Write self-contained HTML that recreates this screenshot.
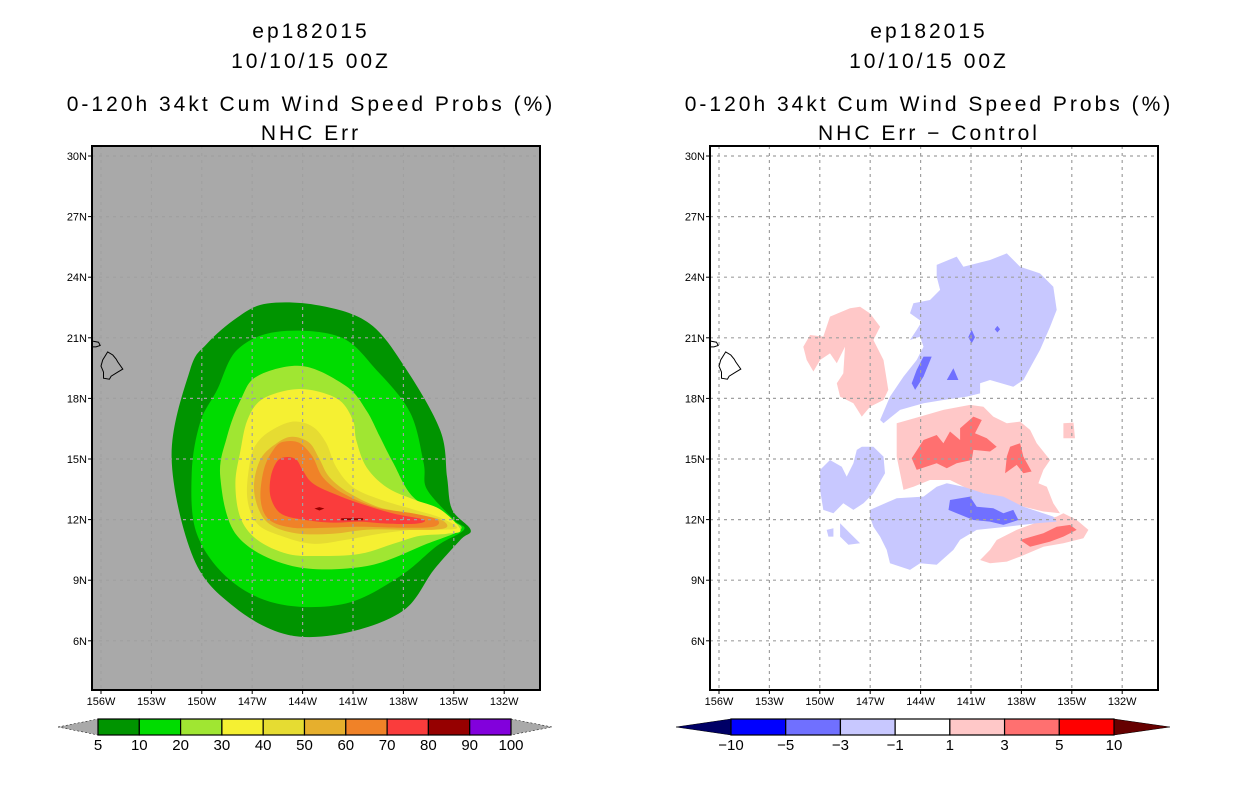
<!DOCTYPE html>
<html><head><meta charset="utf-8"><style>
html,body{margin:0;padding:0;background:#fff;}
svg{display:block;font-family:"Liberation Sans",sans-serif;}
</style></head><body>
<svg id="chart" width="1236" height="800" viewBox="0 0 1236 800" xmlns="http://www.w3.org/2000/svg">
<g font-size="21" letter-spacing="3" text-anchor="middle" fill="#000">
<text x="311" y="38">ep182015</text>
<text x="311" y="68">10/10/15 00Z</text>
<text x="311" y="111">0-120h 34kt Cum Wind Speed Probs (%)</text>
<text x="311" y="140">NHC Err</text>
</g>
<g font-size="21" letter-spacing="3" text-anchor="middle" fill="#000">
<text x="929" y="38">ep182015</text>
<text x="929" y="68">10/10/15 00Z</text>
<text x="929" y="111">0-120h 34kt Cum Wind Speed Probs (%)</text>
<text x="929" y="140">NHC Err − Control</text>
</g>
<g id="leftMap"></g>
<g id="rightMap"></g>
<g id="leftBar"></g>
<g id="rightBar"></g>
</svg>
<script>
const NS='http://www.w3.org/2000/svg';
const lonTicks=[156,153,150,147,144,141,138,135,132];
const latTicks=[30,27,24,21,18,15,12,9,6];
const probLevels=['5','10','20','30','40','50','60','70','80','90','100'];
const probColors=['#009400','#00dc00','#a0e632','#f5f032','#e6dc32','#e6af2d','#f08228','#fa3c3c','#960000','#8200dc'];
const diffLevels=['−10','−5','−3','−1','1','3','5','10'];
const diffColors=['#0000ff','#7070ff','#c8c8ff','#ffffff','#ffc8c8','#ff7070','#ff0000'];
// contours: [lonW, lat]
const prob5=[[146.1,22.7],[143.0,22.6],[140.0,21.7],[137.8,19.4],[135.8,16.4],[135.4,14.1],[135.1,12.5],[134.0,11.5],[134.6,11.0],[136.2,9.5],[138.0,7.5],[141.4,6.4],[144.9,6.3],[148.1,7.7],[150.5,10.1],[151.8,15.1],[150.7,19.4],[149.7,20.7],[147.9,22.0]];
const prob10=[[145.5,21.3],[141.8,21.05],[139.6,19.4],[137.6,17.3],[136.8,14.8],[136.6,13.5],[135.0,12.0],[134.4,11.5],[136.0,10.7],[138.2,9.2],[141.4,7.85],[145.3,7.8],[148.3,9.0],[150.3,11.3],[150.6,14.3],[150.1,16.8],[149.1,18.4],[147.9,20.4]];
const prob20=[[146.7,19.1],[144.0,19.6],[141.4,18.6],[140.2,17.4],[139.4,16.1],[138.6,14.8],[137.4,13.1],[135.2,12.0],[134.6,11.5],[136.6,10.8],[140.2,9.7],[144.6,9.7],[147.9,11.2],[148.9,14.1],[148.5,16.1],[147.7,17.9]];
const prob30=[[146.5,17.9],[144.9,18.4],[143.4,18.4],[141.8,17.9],[141.0,16.9],[140.8,15.9],[140.2,14.6],[139.0,13.6],[137.4,13.0],[135.8,12.5],[134.6,11.5],[135.4,11.3],[137.0,11.2],[138.6,10.8],[140.6,10.3],[143.0,10.2],[144.9,10.3],[146.7,11.0],[147.7,12.1],[148.0,13.8],[147.7,15.4],[147.3,16.9]];
const prob40=[[145.9,16.4],[144.6,16.85],[143.4,16.6],[142.6,15.8],[142.0,14.6],[141.0,13.6],[139.4,13.0],[137.4,12.5],[135.8,12.1],[134.8,11.6],[135.8,11.5],[137.4,11.5],[139.4,11.3],[141.4,11.0],[143.4,10.8],[145.3,11.2],[146.7,11.8],[147.3,13.1],[147.1,15.0],[146.7,15.8]];
const prob50=[[145.5,15.8],[144.6,16.1],[143.6,15.8],[143.0,15.0],[142.4,14.1],[141.2,13.3],[139.4,12.6],[137.4,12.3],[135.8,12.0],[135.4,11.65],[136.2,11.5],[138.2,11.5],[140.2,11.5],[142.2,11.3],[144.2,11.3],[145.7,11.65],[146.5,12.3],[146.9,13.6],[146.5,15.0]];
const prob60=[[145.15,15.85],[144.2,15.8],[143.4,15.1],[142.8,14.1],[141.6,13.3],[139.6,12.6],[137.4,12.3],[136.0,12.0],[136.2,11.65],[138.2,11.6],[140.6,11.65],[142.6,11.6],[144.6,11.6],[146.0,12.0],[146.5,13.0],[146.3,14.5],[145.7,15.5]];
const prob70=[[144.9,15.1],[144.35,14.95],[144.0,14.45],[143.4,13.8],[142.2,13.3],[140.6,12.8],[138.6,12.3],[136.8,12.0],[137.2,11.8],[139.0,11.8],[140.6,11.9],[142.2,11.85],[144.0,12.0],[145.3,12.3],[145.9,13.1],[145.9,14.1],[145.5,14.9]];
const prob80a=[[143.3,12.55],[143.0,12.62],[142.7,12.55],[143.0,12.45]];
const prob80b=[[141.7,12.07],[140.4,12.07],[140.4,11.97],[141.7,11.97]];
const negNorth=[[143.04,24.61],[141.85,25.02],[141.45,24.52],[139.87,24.85],[138.87,25.18],[138.08,24.52],[136.89,24.19],[136.10,23.53],[135.90,22.38],[136.29,21.55],[136.89,20.40],[137.88,18.91],[138.48,18.58],[139.87,18.91],[140.46,18.75],[140.46,18.25],[141.25,18.09],[142.64,17.92],[143.83,17.76],[145.22,17.43],[146.21,16.77],[146.41,16.93],[145.82,18.09],[145.02,19.08],[144.23,19.90],[143.83,20.56],[144.03,21.06],[144.63,20.89],[144.23,21.39],[143.93,21.80],[144.63,22.22],[144.43,22.71],[143.44,22.87],[142.84,23.37],[143.04,24.03]];
const neg3a=[[143.83,20.07],[143.34,20.07],[143.83,19.08],[144.33,18.42],[144.53,18.75],[144.23,19.41]];
const neg3b=[[142.05,19.49],[141.75,18.91],[142.44,18.91]];
const neg3c=[[140.96,21.39],[140.76,21.03],[140.96,20.73],[141.16,21.03]];
const neg3d=[[139.43,21.59],[139.27,21.42],[139.43,21.26],[139.59,21.42]];
const posNW=[[150.98,20.56],[150.58,21.14],[149.79,21.06],[149.39,22.05],[148.20,22.46],[147.60,22.54],[147.01,22.21],[146.41,21.55],[146.81,20.89],[146.21,19.90],[145.92,18.42],[146.21,17.92],[147.01,17.59],[147.50,17.10],[148.00,17.76],[148.79,18.09],[148.99,18.75],[148.60,19.24],[148.50,20.56],[148.79,20.07],[148.99,19.74],[149.39,20.23],[149.98,19.90],[150.38,19.33],[150.78,19.90]];
const posCentral=[[145.42,16.77],[144.03,17.10],[142.64,17.43],[141.06,17.68],[140.26,17.59],[139.67,17.10],[138.87,16.77],[138.08,16.85],[137.48,16.44],[137.09,15.78],[136.29,14.95],[136.69,14.46],[136.99,13.80],[136.49,13.63],[136.10,12.81],[135.70,12.31],[136.69,12.40],[137.88,12.64],[139.47,13.14],[141.06,13.47],[142.25,13.96],[143.44,13.96],[144.43,13.63],[145.02,13.47],[145.22,14.29],[145.42,15.12],[145.42,15.94]];
const pos3a=[[144.53,15.04],[143.83,15.94],[143.04,16.19],[142.64,15.78],[142.25,16.36],[141.65,15.94],[141.65,16.52],[140.86,17.10],[140.36,16.93],[140.76,16.27],[140.06,16.03],[139.47,15.61],[139.87,15.37],[140.86,15.45],[140.96,14.95],[141.85,14.79],[142.44,14.54],[143.04,14.79],[144.23,14.46]];
const pos3b=[[138.67,15.61],[138.08,15.78],[137.88,15.12],[137.39,14.38],[137.88,14.29],[138.28,14.71],[138.97,14.29],[138.87,15.12]];
const posE=[[135.50,16.77],[134.90,16.80],[134.81,16.03],[135.50,16.03]];
const posSE=[[140.46,10.00],[139.87,10.50],[139.47,10.99],[138.28,11.49],[136.69,11.98],[135.90,12.15],[135.50,12.31],[134.71,11.98],[134.01,11.49],[134.31,11.08],[135.50,10.83],[136.69,10.66],[138.08,10.17],[138.87,9.92],[139.87,9.84]];
const pos3SE=[[138.08,10.99],[136.69,11.32],[135.90,11.65],[135.10,11.74],[134.71,11.49],[135.50,11.16],[136.29,10.91],[137.48,10.66]];
const negSouth=[[147.01,12.48],[145.42,13.06],[143.83,13.14],[143.04,13.63],[142.44,13.80],[141.45,13.63],[140.26,13.30],[139.07,13.14],[137.88,12.64],[136.10,12.15],[135.90,11.90],[137.09,11.82],[138.87,11.65],[140.66,11.49],[141.65,11.00],[142.05,10.50],[143.04,9.76],[144.03,9.84],[144.63,9.51],[145.82,9.84],[146.02,10.50],[146.41,11.16],[146.81,11.65],[147.01,12.15]];
const neg3South=[[142.25,12.97],[141.06,13.14],[140.66,12.64],[139.67,12.56],[139.07,12.31],[138.48,12.48],[138.18,11.98],[139.07,11.74],[139.87,11.90],[140.86,11.98],[141.85,12.31],[142.34,12.48]];
const negWest=[[149.98,14.46],[149.39,14.95],[148.69,14.62],[148.40,14.13],[148.00,14.79],[147.80,15.45],[147.50,15.61],[146.81,15.61],[146.21,15.12],[146.12,14.29],[146.81,13.30],[147.40,12.81],[148.00,12.48],[148.60,12.81],[149.19,12.31],[149.79,12.48],[149.98,13.47]];
const negSmall1=[[148.79,11.82],[148.20,11.32],[147.60,10.83],[148.30,10.75],[148.79,11.16]];
const negSmall2=[[149.59,11.49],[149.19,11.57],[149.19,11.16],[149.49,11.16]];
const bigIsland=[[155.6,20.3],[155.9,19.9],[156.0,19.6],[155.85,19.3],[155.85,19.0],[155.5,18.95],[155.4,19.1],[155.0,19.3],[154.7,19.45],[155.0,19.8],[155.1,19.95],[155.3,20.15]];
const maui=[[156.6,20.85],[156.15,20.78],[156.05,20.62],[156.3,20.55],[156.6,20.55]];

function el(t,a,p){const e=document.createElementNS(NS,t);for(const k in a)e.setAttribute(k,a[k]);p.appendChild(e);return e;}
function makeMap(g,x0,id){
  const X0=x0,W=448,Y0=146,H=544;
  const xs=lon=>X0+9+(156-lon)*16.8;
  const ys=lat=>156+(30-lat)*20.2;
  const clip=el('clipPath',{id:id},g);el('rect',{x:X0,y:Y0,width:W,height:H},clip);
  const inner=el('g',{'clip-path':'url(#'+id+')'},g);
  return {xs,ys,inner,X0,W,Y0,H};
}
function ptsStr(m,arr){return arr.map(p=>m.xs(p[0]).toFixed(1)+','+m.ys(p[1]).toFixed(1)).join(' ');}
function smoothPath(m,arr){
  const P=arr.map(p=>[m.xs(p[0]),m.ys(p[1])]);const n=P.length;let d='M'+P[0][0].toFixed(1)+','+P[0][1].toFixed(1);
  for(let i=0;i<n;i++){const p0=P[(i-1+n)%n],p1=P[i],p2=P[(i+1)%n],p3=P[(i+2)%n];
    const c1=[p1[0]+(p2[0]-p0[0])/6,p1[1]+(p2[1]-p0[1])/6],c2=[p2[0]-(p3[0]-p1[0])/6,p2[1]-(p3[1]-p1[1])/6];
    d+='C'+c1[0].toFixed(1)+','+c1[1].toFixed(1)+' '+c2[0].toFixed(1)+','+c2[1].toFixed(1)+' '+p2[0].toFixed(1)+','+p2[1].toFixed(1);}
  return d+'Z';
}
function gridAxes(m,g){
  for(const lon of lonTicks){const x=m.xs(lon);
    const l=el('line',{x1:x,y1:m.Y0,x2:x,y2:m.Y0+m.H,stroke:'#a0a0a0','stroke-width':1.2,'stroke-dasharray':'3,4'},m.inner);
    
    el('line',{x1:x,y1:m.Y0+m.H,x2:x,y2:m.Y0+m.H+4,stroke:'#000'},g);
    const t=el('text',{x:x,y:m.Y0+m.H+15,'font-size':11,'text-anchor':'middle'},g);t.textContent=lon+'W';
    }
  for(const lat of latTicks){const y=m.ys(lat);
    const l=el('line',{x1:m.X0,y1:y,x2:m.X0+m.W,y2:y,stroke:'#a0a0a0','stroke-width':1.2,'stroke-dasharray':'3,4'},m.inner);
    
    el('line',{x1:m.X0-4,y1:y,x2:m.X0,y2:y,stroke:'#000'},g);
    const t=el('text',{x:m.X0-5,y:y+4,'font-size':11,'text-anchor':'end'},g);t.textContent=lat+'N';
    }
  for(const isl of [bigIsland,maui]){const p=el('polygon',{points:ptsStr(m,isl),fill:'none',stroke:'#000','stroke-width':1},m.inner);
    }
  const b=el('rect',{x:m.X0,y:m.Y0,width:m.W,height:m.H,fill:'none',stroke:'#000','stroke-width':2},g);
  
}
// left
const L=makeMap(document.getElementById('leftMap'),92,'clipL');
el('rect',{x:92,y:146,width:448,height:544,fill:'#a9a9a9'},L.inner);
[[prob5,0],[prob10,1],[prob20,2],[prob30,3],[prob40,4],[prob50,5],[prob60,6],[prob70,7]].forEach(([a,i])=>{
  const p=el('path',{d:smoothPath(L,a),fill:probColors[i]},L.inner);
  });
[prob80a,prob80b].forEach(a=>{const p=el('polygon',{points:ptsStr(L,a),fill:probColors[8]},L.inner);
  });
gridAxes(L,document.getElementById('leftMap'));
// right
const R=makeMap(document.getElementById('rightMap'),710,'clipR');
el('rect',{x:710,y:146,width:448,height:544,fill:'#fff'},R.inner);
const rl=[[negNorth,2,'diff-negative-1to3'],[neg3a,1,'diff-negative-3to5'],[neg3b,1,'diff-negative-3to5'],[neg3c,1,'diff-negative-3to5'],[neg3d,1,'diff-negative-3to5'],
[posNW,4,'diff-positive-1to3'],[posCentral,4,'diff-positive-1to3'],[pos3a,5,'diff-positive-3to5'],[pos3b,5,'diff-positive-3to5'],[posE,4,'diff-positive-1to3'],
[posSE,4,'diff-positive-1to3'],[pos3SE,5,'diff-positive-3to5'],[negSouth,2,'diff-negative-1to3'],[neg3South,1,'diff-negative-3to5'],[negWest,2,'diff-negative-1to3'],[negSmall1,2,'diff-negative-1to3'],[negSmall2,2,'diff-negative-1to3']];
rl.forEach(([a,i,n])=>{const p=el('polygon',{points:ptsStr(R,a),fill:diffColors[i]},R.inner);
  });
gridAxes(R,document.getElementById('rightMap'));
// colorbars
function colorbar(g,x0,x1,y,h,tl,tr,colors,labels,leftCol,rightCol,labelOffset){
  const n=colors.length,w=(x1-x0)/n;
  const a=el('polygon',{points:`${tl},${y+h/2} ${x0},${y} ${x0},${y+h}`,fill:leftCol,stroke:'#000','stroke-width':0.5,'stroke-dasharray':leftCol==='#a9a9a9'?'2,2':'none'},g);
  
  const b=el('polygon',{points:`${tr},${y+h/2} ${x1},${y} ${x1},${y+h}`,fill:rightCol,stroke:'#000','stroke-width':0.5,'stroke-dasharray':rightCol==='#a9a9a9'?'2,2':'none'},g);
  
  colors.forEach((c,i)=>{const r=el('rect',{x:x0+i*w,y:y,width:w,height:h,fill:c,stroke:'#000','stroke-width':1.2},g);
    });
  labels.forEach((s,i)=>{const t=el('text',{x:x0+(i+labelOffset)*w,y:y+h+15,'font-size':15,'text-anchor':'middle'},g);t.textContent=s;
    });
}
colorbar(document.getElementById('leftBar'),98,511,719,16,58,552,probColors,probLevels,'#a9a9a9','#a9a9a9',0);
colorbar(document.getElementById('rightBar'),731,1114,719,16,676,1170,['#0000ff','#7070ff','#c8c8ff','#ffffff','#ffc8c8','#ff7070','#ff0000'],diffLevels,'#000066','#660000',0);
</script>
</body></html>
